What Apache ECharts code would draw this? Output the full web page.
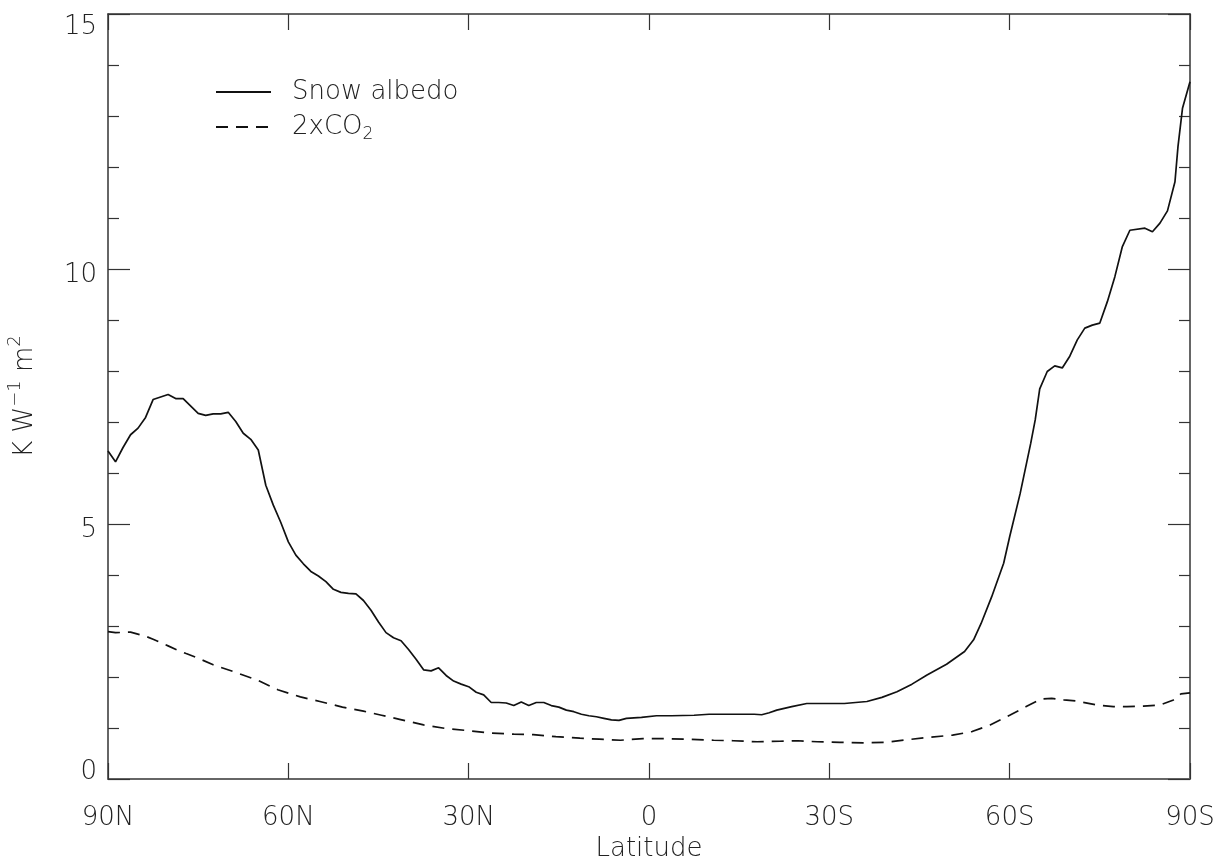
<!DOCTYPE html>
<html>
<head>
<meta charset="utf-8">
<script src="https://cdn.jsdelivr.net/npm/echarts@6/dist/echarts.min.js"></script>
<style>
  html, body { margin: 0; padding: 0; background: #ffffff; }
  #chart { width: 1226px; height: 859px; }
</style>
</head>
<body>
<div id="chart"></div>
<script>
// Latitude in degrees, north positive, south negative
const snowLat = [90, 88.75, 87.5, 86.25, 85, 83.75, 82.5, 80, 78.75, 77.5, 75, 73.75, 72.5, 71.25, 70,
  68.75, 67.5, 66.25, 65, 63.75, 62.5, 61.25, 60, 58.75, 57.5, 56.25, 55, 53.75, 52.5, 51.25, 50,
  48.75, 47.5, 46.25, 45, 43.75, 42.5, 41.25, 40, 38.75, 37.5, 36.25, 35, 33.75, 32.5, 31.25, 30,
  28.75, 27.5, 26.25, 25, 23.75, 22.5, 21.25, 20, 18.75, 17.5, 16.25, 15, 13.75, 12.5, 11.25, 10,
  8.75, 7.5, 6.25, 5, 3.75, 1.25, -1.25, -3.75, -7.5, -10, -12.5, -15, -17.5, -18.75, -20, -21.25,
  -23.75, -26.25, -28.75, -32.5, -36.25, -38.75, -41.25, -43.75, -46.25, -49.5, -52.5, -54, -55.25,
  -57, -59, -60, -61.75, -63.5, -64.25, -65, -66.25, -67.5, -68.75, -70, -71.25, -72.5, -73.75, -75,
  -76.25, -77.5, -78.75, -80, -82.5, -83.75, -85, -86.25, -87.5, -88, -88.75, -90];
const snowVal = [6.43, 6.22, 6.50, 6.75, 6.88, 7.09, 7.44, 7.54, 7.46, 7.46, 7.17, 7.13, 7.16, 7.16, 7.19,
  7.01, 6.78, 6.66, 6.45, 5.76, 5.37, 5.03, 4.65, 4.39, 4.22, 4.07, 3.98, 3.87, 3.72, 3.66, 3.64,
  3.63, 3.50, 3.31, 3.08, 2.87, 2.77, 2.71, 2.54, 2.35, 2.14, 2.12, 2.18, 2.03, 1.92, 1.86, 1.81,
  1.70, 1.65, 1.50, 1.50, 1.49, 1.44, 1.51, 1.44, 1.50, 1.50, 1.44, 1.41, 1.35, 1.32, 1.27, 1.24,
  1.22, 1.19, 1.16, 1.15, 1.19, 1.21, 1.24, 1.24, 1.25, 1.27, 1.27, 1.27, 1.27, 1.26, 1.30, 1.35,
  1.42, 1.48, 1.48, 1.48, 1.52, 1.60, 1.71, 1.86, 2.04, 2.25, 2.50, 2.73, 3.05,
  3.57, 4.23, 4.75, 5.60, 6.58, 7.04, 7.65, 7.99, 8.10, 8.06, 8.29, 8.61, 8.84, 8.90, 8.94,
  9.36, 9.85, 10.44, 10.76, 10.80, 10.73, 10.90, 11.14, 11.71, 12.40, 13.15, 13.67];

const co2Lat = [90, 88.75, 86.25, 83.75, 82.5, 80, 78.5, 77, 75.25, 72.5, 68.5, 65, 61.75, 58, 54.75,
  51, 47.5, 44.5, 41.5, 37.5, 33.75, 30.25, 26.5, 22.5, 19.25, 15.5, 11.5, 8.25, 4.75, 1, -3, -6.75,
  -10.75, -14, -18, -21.75, -24.75, -28, -31.75, -35.75, -39.5, -43, -46.75, -50.5, -53.75, -56.75,
  -60, -62.75, -65.25, -67, -69, -71, -74.5, -77.25, -79.5, -82.25, -85, -87.25, -88.5, -90];
const co2Val = [2.89, 2.87, 2.88, 2.80, 2.74, 2.61, 2.53, 2.46, 2.38, 2.24, 2.08, 1.93, 1.75, 1.61, 1.52,
  1.41, 1.33, 1.25, 1.17, 1.06, 0.99, 0.95, 0.90, 0.88, 0.87, 0.83, 0.80, 0.78, 0.76, 0.79, 0.79, 0.78,
  0.76, 0.75, 0.73, 0.74, 0.75, 0.73, 0.72, 0.71, 0.72, 0.77, 0.82, 0.86, 0.93, 1.06,
  1.25, 1.42, 1.57, 1.58, 1.55, 1.53, 1.45, 1.42, 1.42, 1.43, 1.45, 1.55, 1.67, 1.69];

const latTicks = { min: -90, max: 90, step: 30 };
const sensTicks = { min: 0, max: 15, step: 5 };

const seriesNames = ['Snow albedo', '2xCO2'];

function latLabel(v) {
  if (v > 0) return v + 'N';
  if (v < 0) return (-v) + 'S';
  return '0';
}

const FONT = 'DejaVu Sans';
const INK = '#222';
const AXIS = '#333';

const chart = echarts.init(document.getElementById('chart'), null, { renderer: 'canvas' });

const pair = (xs, ys) => xs.map((x, i) => [x, ys[i]]);

const frameAxis = {
  axisLine: { show: true, onZero: false, lineStyle: { color: AXIS, width: 1.5 } },
  splitLine: { show: false }
};

chart.setOption({
  backgroundColor: '#ffffff',
  animation: false,
  textStyle: { fontFamily: FONT, color: INK },
  grid: { left: 108, right: 36, top: 14, bottom: 80, containLabel: false, outerBoundsMode: 'none' },
  legend: {
    orient: 'vertical',
    left: 210,
    top: 74,
    itemWidth: 55,
    itemHeight: 20,
    itemGap: 9,
    selectedMode: false,
    data: seriesNames,
    itemStyle: { opacity: 0, borderWidth: 0 },
    textStyle: {
      fontFamily: FONT, fontSize: 26, fontWeight: 200, color: INK, lineHeight: 20,
      padding: [0, 0, 0, 16],
      rich: {
        sub: { fontFamily: FONT, fontSize: 17, fontWeight: 200, color: INK, padding: [16, 0, 0, 0] }
      }
    },
    formatter: function (name) {
      return name === '2xCO2' ? '2xCO{sub|2}' : name;
    }
  },
  xAxis: [
    Object.assign({}, frameAxis, {
      type: 'value', position: 'bottom', inverse: true,
      min: latTicks.min, max: latTicks.max, interval: latTicks.step,
      name: 'Latitude', nameLocation: 'middle', nameGap: 57,
      nameTextStyle: { fontFamily: FONT, fontSize: 26, fontWeight: 200, color: INK },
      axisLine: { show: true, onZero: false, lineStyle: { color: '#666', width: 2 } },
      axisTick: { show: true, inside: true, length: 16, lineStyle: { color: AXIS, width: 1.2 } },
      axisLabel: {
        margin: 26, fontFamily: FONT, fontSize: 26, fontWeight: 200, color: INK,
        formatter: latLabel
      }
    }),
    Object.assign({}, frameAxis, {
      type: 'value', position: 'top', inverse: true,
      min: latTicks.min, max: latTicks.max, interval: latTicks.step,
      axisTick: { show: true, inside: true, length: 16, lineStyle: { color: AXIS, width: 1.2 } },
      axisLabel: { show: false }
    })
  ],
  yAxis: [
    Object.assign({}, frameAxis, {
      type: 'value', position: 'left',
      min: sensTicks.min, max: sensTicks.max, interval: sensTicks.step,
      name: 'K W{sup|\u22121} m{sup|2}', nameLocation: 'middle', nameGap: 64, nameRotate: 90,
      nameTextStyle: {
        fontFamily: FONT, fontSize: 26, fontWeight: 200, color: INK,
        rich: {
          sup: { fontFamily: FONT, fontSize: 18, fontWeight: 200, color: INK, padding: [0, 0, 20, 0] }
        }
      },
      axisTick: { show: true, inside: true, length: 22, lineStyle: { color: AXIS, width: 1.2 } },
      minorTick: { show: true, splitNumber: 5, length: 11, lineStyle: { color: AXIS, width: 1.2 } },
      axisLabel: {
        margin: 11, fontFamily: FONT, fontSize: 26, fontWeight: 200, color: INK,
        formatter: function (v) {
          if (v === sensTicks.max) return '{hi|' + v + '}';
          if (v === sensTicks.min) return '{lo|' + v + '}';
          return '{mid|' + v + '}';
        },
        rich: {
          hi: { fontFamily: FONT, fontSize: 26, fontWeight: 200, color: INK, padding: [26, 0, 0, 0] },
          lo: { fontFamily: FONT, fontSize: 26, fontWeight: 200, color: INK, padding: [0, 0, 14, 0] },
          mid: { fontFamily: FONT, fontSize: 26, fontWeight: 200, color: INK, padding: [12, 0, 0, 0] }
        }
      }
    }),
    Object.assign({}, frameAxis, {
      type: 'value', position: 'right',
      min: sensTicks.min, max: sensTicks.max, interval: sensTicks.step,
      axisTick: { show: true, inside: true, length: 22, lineStyle: { color: AXIS, width: 1.2 } },
      minorTick: { show: true, splitNumber: 5, length: 11, lineStyle: { color: AXIS, width: 1.2 } },
      axisLabel: { show: false }
    })
  ],
  series: [
    {
      name: seriesNames[0], type: 'line', xAxisIndex: 0, yAxisIndex: 0,
      data: pair(snowLat, snowVal),
      showSymbol: false, symbol: 'none', smooth: false,
      lineStyle: { color: '#111', width: 1.7, type: 'solid' },
      itemStyle: { color: '#111' }
    },
    {
      name: seriesNames[1], type: 'line', xAxisIndex: 0, yAxisIndex: 0,
      data: pair(co2Lat, co2Val),
      showSymbol: false, symbol: 'none', smooth: false,
      lineStyle: { color: '#111', width: 1.7, type: [12, 8] },
      itemStyle: { color: '#111' }
    }
  ]
});
</script>
</body>
</html>
